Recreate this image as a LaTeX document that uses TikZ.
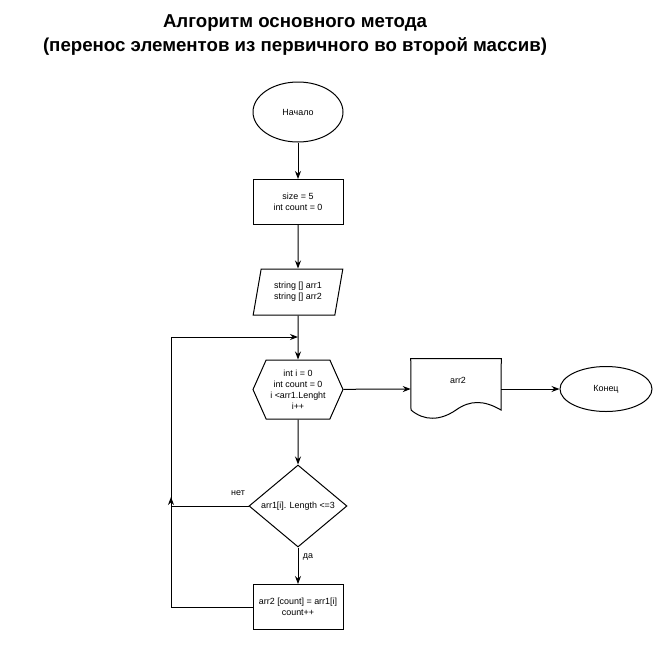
\documentclass[tikz,border=0pt]{standalone}
\usepackage{fontspec}
\setmainfont{Liberation Sans}
\usetikzlibrary{shapes.geometric,shapes.symbols,arrows.meta,positioning}

\tikzset{
  every node/.style={font=\fontsize{6.7}{8.2}\selectfont, align=center},
  flow/.style={draw, line width=0.75pt},
  term/.style={flow, ellipse, inner sep=0pt},
  proc/.style={flow, rectangle, minimum width=67.5pt, minimum height=33.75pt, inner sep=0pt},
  inout/.style={flow, trapezium, trapezium left angle=75, trapezium right angle=105,
                trapezium stretches=true, minimum width=67.5pt, minimum height=34.5pt, inner sep=0pt},
  cycle/.style={flow, signal, signal to=east and west, signal pointer angle=132,
                minimum width=67.5pt, minimum height=44.25pt, inner sep=0pt},
  check/.style={flow, diamond, minimum width=73.5pt, minimum height=61.5pt, inner sep=0pt, aspect=1.2},
  link/.style={line width=0.75pt, -{Stealth[length=6pt,width=4.5pt]}}
}

\begin{document}
\begin{tikzpicture}[x=0.75pt, y=-0.75pt]
\useasboundingbox (0,0) rectangle (663,653);

% title
\node[font=\fontsize{14}{18}\selectfont\bfseries] (title) at (295,35) {Алгоритм основного метода\\(перенос элементов из первичного во второй массив)};

% blocks
\node[term, minimum width=67.5pt, minimum height=45pt] (start) at (298,112) {Начало};
\node[proc] (init) at (298,202) {size = 5\\int count = 0};
\node[inout] (arrs) at (298,292) {string [] arr1\\string [] arr2};
\node[cycle] (loop) at (298,389.5) {int i = 0\\int count = 0\\i <arr1.Lenght\\i++};
\node[check] (cond) at (298,506) {arr1[i]. Length <=3};
\node[proc] (body) at (298,607) {arr2 [count] = arr1[i]\\count++};

\node[minimum width=67.5pt, minimum height=45pt, inner sep=0pt] (doc) at (456,389) {};
\node (doctext) at (458,380) {arr2};
\node[term, minimum width=69pt, minimum height=33.75pt] (end) at (606,389) {Конец};

% document outline
\draw[line width=0.75pt] (doc.north west) -- (doc.north east) -- (501,410)
  .. controls (484,400) and (470,400) .. (456,410)
  .. controls (440,421) and (424,421) .. (411,410) -- cycle;

% helper points
\coordinate (join) at (298,337);
\coordinate (back) at (171,337);
\coordinate (up) at (171,497);

% connectors
\draw[link] (start) -- (init);
\draw[link] (init) -- (arrs);
\draw[link] (arrs) -- (loop);
\draw[link] (loop) -- (doc.west);
\draw[link] (doc.east |- end) -- (end);
\draw[link] (loop) -- (cond);
\draw[link] (cond) -- node[right, pos=0.25] (yes) {да} (body);
\draw[link] (body.west) -| (back) -- (join);
\draw[link] (cond.west) -| (up);
\node (no) at (238,493) {нет};
\end{tikzpicture}
\end{document}
